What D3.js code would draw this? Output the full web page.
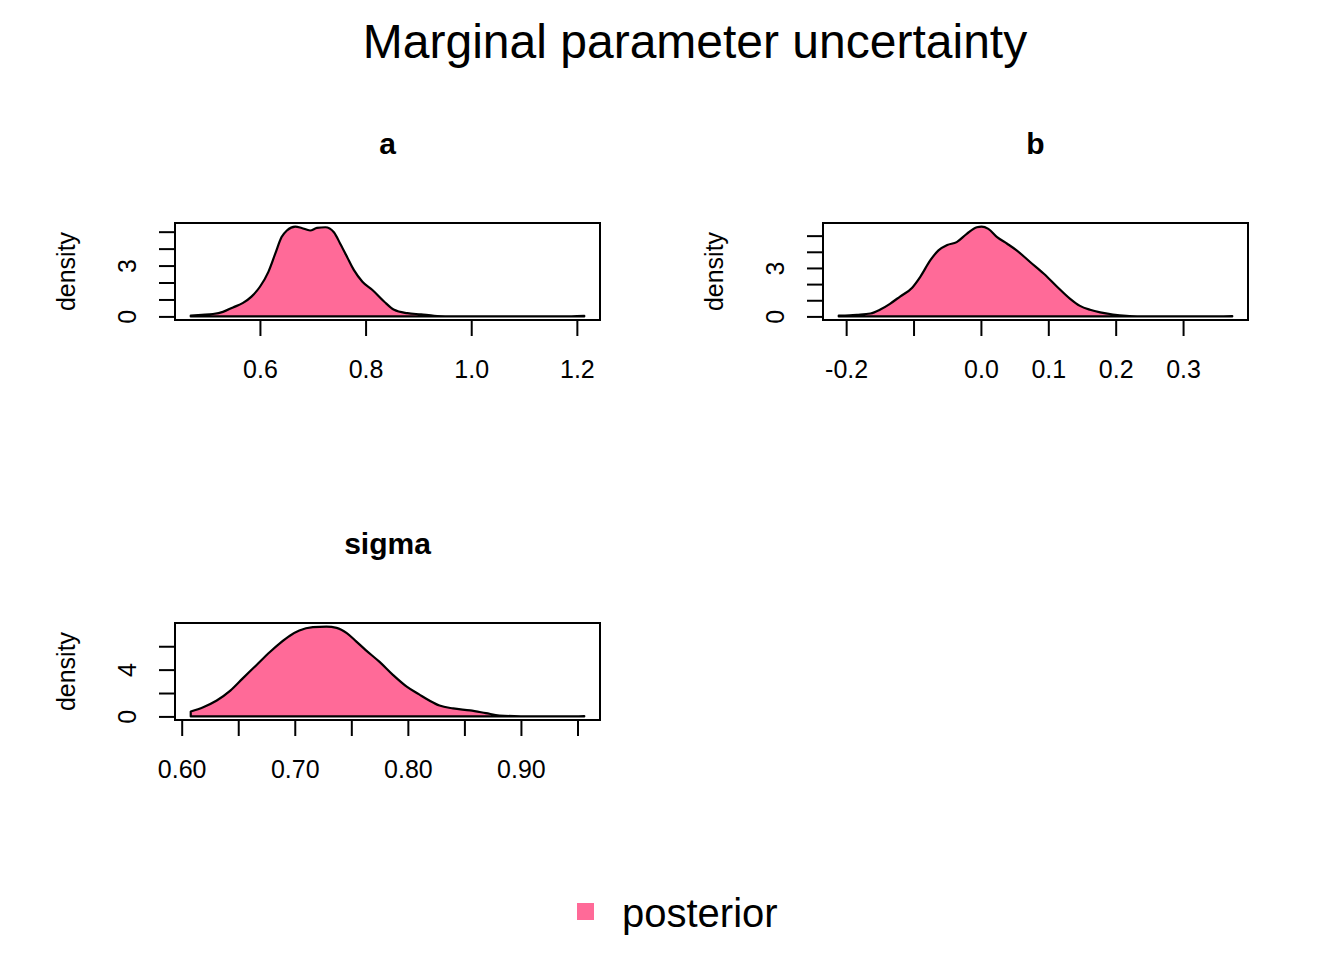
<!DOCTYPE html>
<html>
<head>
<meta charset="utf-8">
<script src="https://cdn.jsdelivr.net/npm/d3@7"></script>
<style>
  body { margin: 0; background: #fff; }
  text { font-family: "Liberation Sans", Arial, Helvetica, sans-serif; fill: #000; }
</style>
</head>
<body>
<script>
const width = 1344;
const height = 960;

// density estimates, one pair of arrays per parameter
const aX = [0.469, 0.490, 0.511, 0.530, 0.549, 0.568, 0.584, 0.600, 0.616, 0.629, 0.641, 0.651, 0.667, 0.679, 0.695, 0.708, 0.724, 0.740, 0.752, 0.765, 0.778, 0.794, 0.813, 0.835, 0.854, 0.879, 0.905, 0.930, 0.960, 1.000, 1.050, 1.100, 1.150, 1.190, 1.214];
const aD = [0.05, 0.09, 0.14, 0.27, 0.53, 0.80, 1.17, 1.75, 2.63, 3.70, 4.68, 5.07, 5.30, 5.22, 5.07, 5.22, 5.26, 4.97, 4.29, 3.51, 2.73, 2.05, 1.56, 0.88, 0.39, 0.19, 0.12, 0.04, 0.01, 0.00, 0.00, 0.00, 0.00, 0.01, 0.03];

const bX = [-0.211, -0.195, -0.184, -0.164, -0.150, -0.135, -0.120, -0.102, -0.090, -0.075, -0.063, -0.050, -0.036, -0.021, -0.006, 0.001, 0.011, 0.024, 0.039, 0.053, 0.073, 0.093, 0.113, 0.132, 0.147, 0.162, 0.177, 0.196, 0.216, 0.240, 0.270, 0.300, 0.330, 0.360, 0.373];
const bD = [0.05, 0.07, 0.10, 0.18, 0.41, 0.78, 1.23, 1.78, 2.45, 3.48, 4.09, 4.42, 4.60, 5.11, 5.52, 5.56, 5.42, 4.91, 4.50, 4.09, 3.37, 2.66, 1.84, 1.10, 0.65, 0.41, 0.25, 0.12, 0.04, 0.01, 0.00, 0.00, 0.00, 0.01, 0.02];

const sX = [0.608, 0.619, 0.631, 0.643, 0.654, 0.666, 0.678, 0.687, 0.696, 0.704, 0.716, 0.728, 0.737, 0.746, 0.754, 0.763, 0.775, 0.787, 0.799, 0.810, 0.819, 0.828, 0.840, 0.855, 0.869, 0.881, 0.900, 0.920, 0.940, 0.956];
const sD = [0.42, 0.79, 1.36, 2.20, 3.25, 4.38, 5.51, 6.27, 6.92, 7.34, 7.63, 7.68, 7.57, 7.12, 6.44, 5.65, 4.66, 3.53, 2.54, 1.88, 1.36, 0.93, 0.68, 0.51, 0.28, 0.08, 0.01, 0.00, 0.00, 0.03];

// ticks and which of them carry a label
const aXTicks = [0.6, 0.8, 1.0, 1.2];
const aXLabels = ["0.6", "0.8", "1.0", "1.2"];
const bXTicks = [-0.2, -0.1, 0.0, 0.1, 0.2, 0.3];
const bXLabels = ["-0.2", "", "0.0", "0.1", "0.2", "0.3"];
const sXTicks = [0.60, 0.65, 0.70, 0.75, 0.80, 0.85, 0.90, 0.95];
const sXLabels = ["0.60", "", "0.70", "", "0.80", "", "0.90", ""];

const aYTicks = [0, 1, 2, 3, 4, 5];
const aYLabels = ["0", "", "", "3", "", ""];
const sYTicks = [0, 2, 4, 6];
const sYLabels = ["0", "", "4", ""];

const panelNames = ["a", "b", "sigma"];
const legendLabel = "posterior";
const fillColor = "#ff6a98";

const panels = [
  { name: panelNames[0], xs: aX, ds: aD, xt: aXTicks, xl: aXLabels, yt: aYTicks, yl: aYLabels, left: 175, top: 223 },
  { name: panelNames[1], xs: bX, ds: bD, xt: bXTicks, xl: bXLabels, yt: aYTicks, yl: aYLabels, left: 823, top: 223 },
  { name: panelNames[2], xs: sX, ds: sD, xt: sXTicks, xl: sXLabels, yt: sYTicks, yl: sYLabels, left: 175, top: 623 }
];
const pw = 425, ph = 97;

const svg = d3.select('body').append('svg')
  .attr('width', width)
  .attr('height', height);

svg.append('text')
  .attr('x', 695)
  .attr('y', 58)
  .attr('text-anchor', 'middle')
  .style('font-size', '48px')
  .text('Marginal parameter uncertainty');

// R-style 4% padding around the data range
const pad = ([lo, hi]) => [lo - 0.04 * (hi - lo), hi + 0.04 * (hi - lo)];

panels.forEach(p => {
  const g = svg.append('g').attr('transform', `translate(${p.left},${p.top})`);

  const x = d3.scaleLinear().domain(pad(d3.extent(p.xs))).range([0, pw]);
  const y = d3.scaleLinear().domain(pad([0, d3.max(p.ds)])).range([ph, 0]);

  const pts = p.xs.map((v, i) => ({ x: v, d: p.ds[i] }));
  const area = d3.area()
    .x(d => x(d.x))
    .y0(y(0))
    .y1(d => y(d.d))
    .curve(d3.curveMonotoneX);

  g.append('path')
    .attr('d', area(pts) + 'Z')
    .attr('fill', fillColor)
    .attr('stroke', '#000')
    .attr('stroke-width', 2.2)
    .attr('stroke-linejoin', 'round');

  // x axis
  const xa = g.append('g')
    .attr('transform', `translate(0,${ph})`)
    .call(d3.axisBottom(x)
      .tickValues(p.xt)
      .tickFormat((d, i) => p.xl[i])
      .tickSize(16)
      .tickSizeOuter(0));
  xa.select('.domain').remove();
  xa.append('line')
    .attr('x1', x(p.xt[0])).attr('x2', x(p.xt[p.xt.length - 1]))
    .attr('stroke', '#000').attr('stroke-width', 2);
  xa.selectAll('.tick line').attr('stroke-width', 2);
  xa.selectAll('.tick text')
    .attr('y', 58)
    .attr('dy', null)
    .style('font-size', '25px')
    .style('font-family', '"Liberation Sans", Arial, sans-serif');

  // y axis
  const ya = g.append('g')
    .call(d3.axisLeft(y)
      .tickValues(p.yt)
      .tickFormat((d, i) => p.yl[i])
      .tickSize(16)
      .tickSizeOuter(0));
  ya.select('.domain').remove();
  ya.append('line')
    .attr('y1', y(p.yt[0])).attr('y2', y(p.yt[p.yt.length - 1]))
    .attr('stroke', '#000').attr('stroke-width', 2);
  ya.selectAll('.tick line').attr('stroke-width', 2);
  ya.selectAll('.tick text')
    .attr('x', null)
    .attr('dy', '0.35em')
    .attr('text-anchor', 'middle')
    .attr('transform', 'translate(-48,0) rotate(-90)')
    .style('font-size', '25px')
    .style('font-family', '"Liberation Sans", Arial, sans-serif');

  g.append('rect')
    .attr('width', pw).attr('height', ph)
    .attr('fill', 'none')
    .attr('stroke', '#000')
    .attr('stroke-width', 2);

  g.append('text')
    .attr('transform', `translate(-109,${ph / 2}) rotate(-90)`)
    .attr('text-anchor', 'middle')
    .attr('dy', '0.35em')
    .style('font-size', '25px')
    .text('density');

  g.append('text')
    .attr('x', pw / 2)
    .attr('y', -69)
    .attr('text-anchor', 'middle')
    .style('font-size', '30px')
    .style('font-weight', 'bold')
    .text(p.name);
});

// legend
svg.append('rect')
  .attr('x', 577).attr('y', 903)
  .attr('width', 17).attr('height', 17)
  .attr('fill', fillColor);
svg.append('text')
  .attr('x', 622).attr('y', 927)
  .style('font-size', '40px')
  .text(legendLabel);
</script>
</body>
</html>
